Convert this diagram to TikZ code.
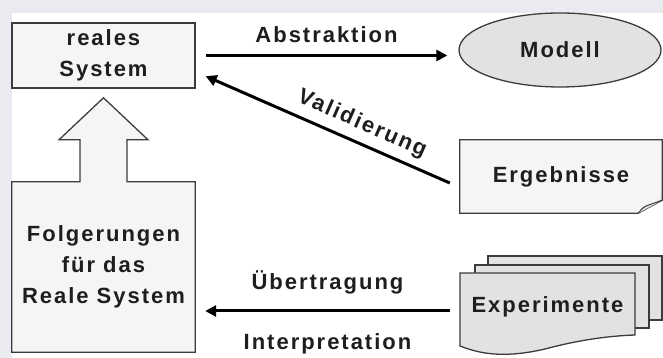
\documentclass[tikz,border=0pt]{standalone}
\usepackage{fontspec}
\setmainfont{Liberation Sans}[LetterSpace=9]
\usetikzlibrary{arrows.meta,calc,shapes.geometric}
\definecolor{pagebg}{RGB}{233,235,240}
\definecolor{boxfill}{RGB}{245,245,245}
\definecolor{shapefill}{RGB}{226,226,226}
\definecolor{edge}{RGB}{60,60,60}
\definecolor{ink}{RGB}{30,30,30}
\tikzset{
  txt/.style={font=\fontsize{22}{31}\selectfont\bfseries, text=ink, align=center, inner sep=0pt},
  box/.style={txt, draw=edge, line width=1.3pt, fill=boxfill},
  sheet/.style={draw=edge, line width=1.3pt, fill=shapefill},
  flow/.style={line width=3pt, -{Triangle[length=11pt,width=11pt]}},
  flowback/.style={line width=3pt, {Triangle[length=11pt,width=11pt]}-},
}
\begin{document}
\begin{tikzpicture}[x=1pt,y=1pt]
\useasboundingbox (0,0) rectangle (663,358);
\fill[pagebg] (0,0) rectangle (663,358);
\fill[white] (12,0) rectangle (663,345);

\node[box, minimum width=183pt, minimum height=65pt] (realsys) at (103.5,302.5) {reales\\System};

\node[txt, minimum width=183pt, minimum height=170pt] (folg) at (103.5,91) {};
\draw[sheet, fill=boxfill] (folg.south west) -- (folg.north west) -- ($(folg.north)+(-23.5,0)$) -- ++(0,42) -- ++(-21,0)
  -- ($(folg.north)+(0,84)$) -- ($(folg.north)+(44.5,42)$) -- ++(-21,0) -- ($(folg.north)+(23.5,0)$)
  -- (folg.north east) -- (folg.south east) -- cycle;
\node[txt] at (folg.center) {Folgerungen\\f\"ur das\\Reale System};

\node[txt, ellipse, draw=edge, line width=1.3pt, fill=shapefill, minimum width=202pt, minimum height=74pt] (modell) at (560,308) {Modell};

\node[txt, minimum width=202pt, minimum height=73pt] (ergeb) at (561,181.5) {};
\draw[sheet, fill=boxfill] (ergeb.north west) -- (ergeb.north east) -- ($(ergeb.south east)+(0,13)$)
  -- ($(ergeb.south east)+(-24,0)$) -- (ergeb.south west) -- cycle;
\draw[sheet, line width=1pt] ($(ergeb.south east)+(-24,0)$) .. controls ($(ergeb.south east)+(-19,6)$) .. ($(ergeb.south east)+(-14,8)$) -- ($(ergeb.south east)+(0,13)$);
\node[txt] at (ergeb.center) {Ergebnisse};

\draw[sheet] (488,38) rectangle (662,102);
\draw[sheet] (475,30) rectangle (649,93);
\draw[sheet] (460,85) -- (635,85) -- (635,23) .. controls (605,22) and (575,17) .. (545,9)
  .. controls (510,1) and (485,2) .. (460,12) -- cycle;
\node[txt, minimum width=175pt, minimum height=40pt] (exper) at (547.5,51) {Experimente};

\draw[flow] ($(realsys.east)+(10,0)$) -- ($(realsys.east -| modell.west)+(-11,0)$)
  node[midway, txt, anchor=base, yshift=13pt] {Abstraktion};
\draw[flowback] ($(realsys.south east)+(10,12.5)$) -- ($(ergeb.west)+(-10,-6.5)$)
  node[pos=.61, txt, sloped, above=7pt] {Validierung};
\draw[flow] ($(exper.west)+(-10,-4)$) -- ($(exper.west -| folg.east)+(10,-4)$)
  node[midway, txt, anchor=base, yshift=21pt] {\"Ubertragung}
  node[midway, txt, anchor=base, yshift=-39pt] {Interpretation};
\end{tikzpicture}
\end{document}
